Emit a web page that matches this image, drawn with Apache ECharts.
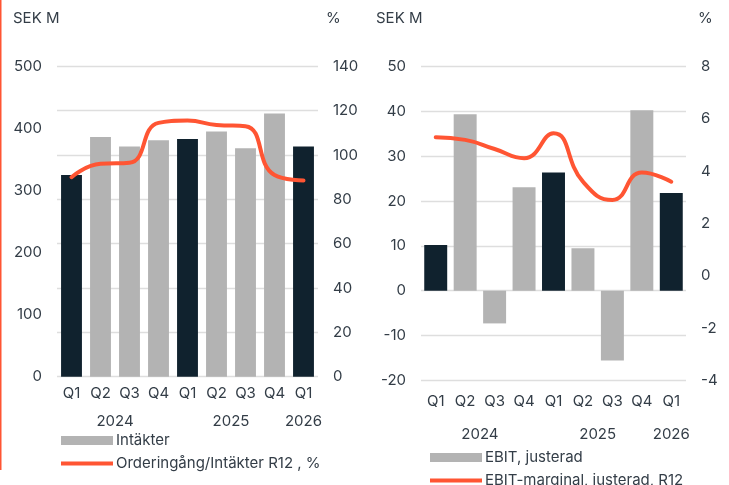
<!DOCTYPE html>
<html><head><meta charset="utf-8">
<script src="https://cdn.jsdelivr.net/npm/echarts@6/dist/echarts.min.js"></script>
<style>html,body{margin:0;padding:0;background:#fff}#c{width:729px;height:485px}</style>
</head><body><div id="c"></div>
<script>
// ---- data ----
const quarters = ['Q1','Q2','Q3','Q4','Q1','Q2','Q3','Q4','Q1'];
const years = ['2024','2025','2026'];
const yearPos = [1.5, 5.5, 8];
const revenue = [325, 386, 371, 381, 383, 395, 368, 424, 371];
const orderRatio = [90, 96, 96.5, 114.5, 115.5, 113.5, 113, 91, 88.5];
const ebit = [10.2, 39.4, -7.3, 23.1, 26.4, 9.5, -15.6, 40.3, 21.8];
const ebitMargin = [5.3, 5.2, 4.85, 4.5, 5.45, 3.6, 2.9, 3.95, 3.6];
const leftTicksL = {min:0, max:500, interval:100};
const leftTicksR = {min:0, max:140, interval:20};
const rightTicksL = {min:-20, max:50, interval:10};
const rightTicksR = {min:-4, max:8, interval:2};

const FONT = 'Inter';
const TXT = '#333d47';
const DARK = '#10222e';
const GREY = '#b3b3b3';
const ORANGE = '#ff5533';
const GRID = '#dedede';
const FS = 15;

const chart = echarts.init(document.getElementById('c'), null, {renderer:'canvas'});

function barColor(p){ return quarters[p.dataIndex]==='Q1' ? DARK : GREY; }
function yearFmt(v){ const i = yearPos.findIndex(p=>Math.abs(p-v)<1e-6); return i>=0 ? years[i] : ''; }

function catAxis(gi){ return {type:'category', gridIndex:gi, data:quarters, axisLine:{show:false,onZero:false}, axisTick:{show:false},
  axisLabel:{color:TXT, fontFamily:FONT, fontSize:FS, margin: gi===0?9:14}}; }
function yearAxis(gi){ return {type:'value', gridIndex:gi, position:'bottom', min:-0.5, max:8.5, interval:0.5, offset: gi===0?29:39,
  axisLine:{show:false,onZero:false}, axisTick:{show:false}, splitLine:{show:false},
  axisLabel:{color:TXT, fontFamily:FONT, fontSize:FS, formatter:yearFmt, showMinLabel:true, showMaxLabel:true, hideOverlap:false}}; }
function valAxis(gi, t, pos, split){ return {type:'value', gridIndex:gi, position:pos, min:t.min, max:t.max, interval:t.interval,
  axisLine:{show:false}, axisTick:{show:false}, splitLine:{show:split, lineStyle:{color:GRID, width:1.3}},
  axisLabel:{color:TXT, fontFamily:FONT, fontSize:FS, margin:15}}; }

const legTxt = {color:TXT, fontFamily:FONT, fontSize:FS, padding:[0,0,0,-2]};
const option = {
  animation:false,
  textStyle:{fontFamily:FONT},
  grid:[
    {left:57, top:66.3, width:261, height:310.4},
    {left:421, top:66.7, width:265, height:313.6}
  ],
  xAxis:[catAxis(0), catAxis(1), yearAxis(0), yearAxis(1)],
  yAxis:[
    valAxis(0, leftTicksL, 'left', false),
    valAxis(0, leftTicksR, 'right', true),
    valAxis(1, rightTicksL, 'left', true),
    valAxis(1, rightTicksR, 'right', false)
  ],
  legend:[
    {data:[{name:'Intäkter', itemStyle:{color:GREY}}], left:56, top:428, itemWidth:52, itemHeight:9, icon:'rect', textStyle:legTxt},
    {data:['Orderingång/Intäkter R12 , %'], left:56, top:451, itemWidth:52, itemHeight:4, icon:'rect', textStyle:legTxt},
    {data:[{name:'EBIT, justerad', itemStyle:{color:GREY}}], left:425, top:445, itemWidth:52, itemHeight:9, icon:'rect', textStyle:legTxt},
    {data:['EBIT-marginal, justerad, R12'], left:425, top:468, itemWidth:52, itemHeight:4, icon:'rect', textStyle:legTxt}
  ],
  series:[
    {name:'Intäkter', type:'bar', xAxisIndex:0, yAxisIndex:0, data:revenue, barCategoryGap:'28%', itemStyle:{color:barColor}},
    {name:'Orderingång/Intäkter R12 , %', type:'line', xAxisIndex:0, yAxisIndex:1, data:orderRatio, smooth:0.5, symbol:'none',
     lineStyle:{color:ORANGE, width:4, cap:'round'}, itemStyle:{color:ORANGE}},
    {name:'EBIT, justerad', type:'bar', xAxisIndex:1, yAxisIndex:2, data:ebit, barCategoryGap:'22%', itemStyle:{color:barColor}},
    {name:'EBIT-marginal, justerad, R12', type:'line', xAxisIndex:1, yAxisIndex:3, data:ebitMargin, smooth:0.5, symbol:'none',
     lineStyle:{color:ORANGE, width:4, cap:'round'}, itemStyle:{color:ORANGE}}
  ],
  graphic:[
    {type:'rect', shape:{x:0, y:0, width:1.5, height:470}, style:{fill:ORANGE}},
    {type:'text', left:13, top:11, style:{text:'SEK M', fill:TXT, font:'15px Inter'}},
    {type:'text', left:326, top:11, style:{text:'%', fill:TXT, font:'15px Inter'}},
    {type:'text', left:376, top:11, style:{text:'SEK M', fill:TXT, font:'15px Inter'}},
    {type:'text', left:698, top:11, style:{text:'%', fill:TXT, font:'15px Inter'}}
  ]
};
chart.setOption(option);
</script></body></html>
